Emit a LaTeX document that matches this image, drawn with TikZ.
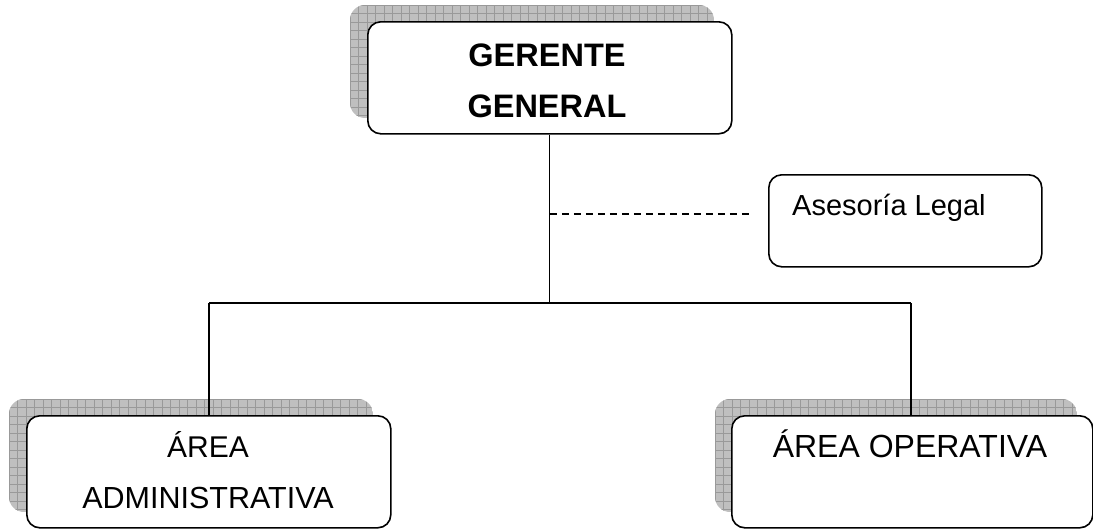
\documentclass[tikz,border=0pt]{standalone}
\usepackage{fontspec}
\setmainfont{Liberation Sans}
\begin{document}
\begin{tikzpicture}[x=1pt,y=-1pt,
  box/.style={draw, line width=1.6pt, rounded corners=13pt, fill=white,
    inner sep=0pt, anchor=north west},
  wire/.style={line width=1.3pt},
  lbl/.style={inner sep=0pt, anchor=base},
]
\useasboundingbox (0,0) rectangle (1093,530);

% hatched drop shadow: light grey fill crossed by a darker grid
\newcommand\gridshadow[4]{%
  \begin{scope}
    \clip[rounded corners=15pt] (#1,#2) rectangle (#3,#4);
    \fill[black!25] (#1,#2) rectangle (#3,#4);
    \draw[black!40, line width=0.45pt, shift={(#1,#2)}]
      (0,0) grid[step=8.5pt] (#3-#1,#4-#2);
  \end{scope}}

\gridshadow{350}{5}{714}{118}
\gridshadow{9}{399}{373}{512}
\gridshadow{715}{399}{1077}{512}

% boxes
\node[box, minimum width=364pt, minimum height=112pt] (gg) at (367,21) {};
\node[box, minimum width=273pt, minimum height=92pt] (al) at (768,174) {};
\node[box, minimum width=364pt, minimum height=112pt] (ad) at (26,415) {};
\node[box, minimum width=361pt, minimum height=112pt] (op) at (731,415) {};

% labels
\node[lbl, font=\fontsize{32.5}{36}\selectfont\bfseries] (gg1) at (547,66) {GERENTE};
\node[lbl, font=\fontsize{32.5}{36}\selectfont\bfseries] (gg2) at (547,117) {GENERAL};
\node[lbl, font=\fontsize{29}{34}\selectfont, anchor=base west] (al1) at (792,215) {Asesoría Legal};
\node[lbl, font=\fontsize{30}{34}\selectfont] (ad1) at (208,457) {ÁREA};
\node[lbl, font=\fontsize{30.5}{34}\selectfont] (ad2) at (208,508) {ADMINISTRATIVA};
\node[lbl, font=\fontsize{32}{36}\selectfont] (op1) at (910,457) {ÁREA OPERATIVA};

% connectors
\coordinate (bus) at (gg.south |- 0,303);
\coordinate (busL) at (209,303);
\coordinate (busR) at (911,303);
\coordinate (tap) at (gg.south |- 0,214);
\coordinate (tapEnd) at (752,214);
\draw[wire] (gg.south) -- (bus);
\draw[wire] (busL) -- (busR);
\draw[wire] (busL) -- (busL |- ad.north);
\draw[wire] (busR) -- (busR |- op.north);
\draw[wire, dash pattern=on 7pt off 5pt] (tap) -- (tapEnd);
\end{tikzpicture}
\end{document}
